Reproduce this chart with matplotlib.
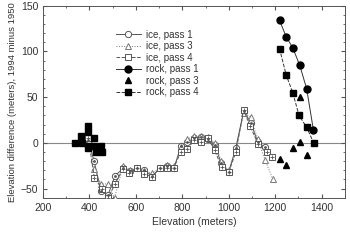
import numpy as np
import matplotlib.pyplot as plt
from matplotlib.ticker import MultipleLocator

plt.rcParams['font.family'] = ['Liberation Sans', 'DejaVu Sans']

## data
ice1_x = [395, 420, 450, 480, 510, 545, 575, 605, 635, 670, 705, 735, 765, 795, 822, 850, 880, 910, 940, 967, 1000, 1030, 1065, 1095, 1125, 1157]
ice1_y = [3, -20, -53, -57, -36, -28, -31, -28, -30, -36, -28, -25, -27, -3, 1, 5, 6, 4, -2, -22, -32, -6, 35, 22, 1, -5]

ice3_x = [400, 421, 450, 481, 508, 545, 575, 605, 635, 670, 705, 735, 765, 795, 822, 850, 880, 910, 940, 967, 1000, 1030, 1065, 1095, 1125, 1157, 1189]
ice3_y = [2, -29, -45, -45, -60, -25, -30, -27, -31, -33, -27, -24, -25, -5, 4, 8, 7, 6, 0, -20, -30, -8, 33, 28, 4, -19, -39]

ice4_x = [395, 421, 453, 481, 510, 543, 571, 604, 636, 671, 704, 736, 764, 793, 822, 850, 881, 911, 939, 969, 1000, 1031, 1064, 1093, 1126, 1165, 1186]
ice4_y = [5, -38, -50, -60, -45, -29, -33, -28, -34, -37, -27, -28, -27, -10, -7, 3, 1, 5, -8, -26, -32, -10, 36, 18, -1, -10, -15]

rock1_x = [1219, 1248, 1276, 1306, 1336, 1365]
rock1_y = [134, 116, 104, 85, 59, 14]

rock3_x = [1219, 1249, 1276, 1306, 1307, 1336]
rock3_y = [-18, -24, -6, 1, 50, -13]

rock4_x = [1219, 1248, 1276, 1303, 1336, 1366]
rock4_y = [103, 74, 55, 30, 17, 0]

# rock pass 4 points on the low (west) end
rock4_low_x = [336, 362, 367, 393, 393, 393, 400, 421, 421, 428, 450, 453]
rock4_low_y = [0, 7, 0, 19, 12, -6, -3, 5, -3, -10, -3, -10]

fig = plt.figure(figsize=(3.5, 2.42), dpi=100)
ax = fig.add_axes([0.123, 0.183, 0.862, 0.793])

ax.axhline(0, color='#888888', lw=0.8, zorder=1)

# ice, pass 1: open circle with a centre dot, solid line
ax.plot(ice1_x, ice1_y, '-', color='#555555', lw=0.7, marker='o', ms=4.5,
        mfc='white', mec='#555555', mew=0.7, label='ice, pass 1', zorder=3)
ax.plot(ice1_x, ice1_y, ls='none', marker='.', ms=2, color='#555555', zorder=4)

# ice, pass 3: open triangle, dotted line
ax.plot(ice3_x, ice3_y, ':', color='#777777', lw=0.7, marker='^', ms=4.5,
        mfc='white', mec='#777777', mew=0.7, label='ice, pass 3', zorder=3)

# ice, pass 4: open square with a plus, dashed line
ax.plot(ice4_x, ice4_y, '--', color='#555555', lw=0.7, marker='s', ms=4.5,
        mfc='white', mec='#555555', mew=0.7, label='ice, pass 4', zorder=3)
ax.plot(ice4_x, ice4_y, ls='none', marker='+', ms=3, mew=0.6, color='#555555', zorder=4)

ax.plot(rock1_x, rock1_y, '-', color='#333333', lw=0.7, marker='o', ms=5,
        mfc='black', mec='black', label='rock, pass 1', zorder=5)
ax.plot(rock3_x, rock3_y, ls='none', marker='^', ms=5,
        mfc='black', mec='black', label='rock, pass 3', zorder=5)
ax.plot(rock4_x, rock4_y, '--', color='#333333', lw=0.7, marker='s', ms=4.5,
        mfc='black', mec='black', label='rock, pass 4', zorder=5)
ax.plot(rock4_low_x, rock4_low_y, ls='none', marker='s', ms=4.5,
        mfc='black', mec='black', zorder=5)

ax.set_xlim(200, 1500)
ax.set_ylim(-60, 150)
ax.xaxis.set_major_locator(MultipleLocator(200))
ax.xaxis.set_minor_locator(MultipleLocator(100))
ax.yaxis.set_major_locator(MultipleLocator(50))
ax.yaxis.set_minor_locator(MultipleLocator(10))
ax.set_xticks([200, 400, 600, 800, 1000, 1200, 1400])
ax.tick_params(which='both', direction='in', top=True, right=True,
               labelsize=7.5, color='#555555', labelcolor='#333333')
ax.tick_params(which='major', length=3)
ax.tick_params(which='minor', length=1.5)
for s in ax.spines.values():
    s.set_color('#555555')
    s.set_linewidth(0.7)

ax.set_xlabel('Elevation (meters)', fontsize=7.5, color='#333333', labelpad=3)
ax.set_ylabel('Elevation difference (meters), 1994 minus 1950', fontsize=6.8,
              color='#333333', labelpad=3)

ax.legend(loc='upper left', bbox_to_anchor=(0.225, 0.9), frameon=False,
          fontsize=7, handlelength=2.6, labelspacing=0.15, borderpad=0,
          handletextpad=0.5, labelcolor='#333333')

fig.savefig('out.png', dpi=100)
